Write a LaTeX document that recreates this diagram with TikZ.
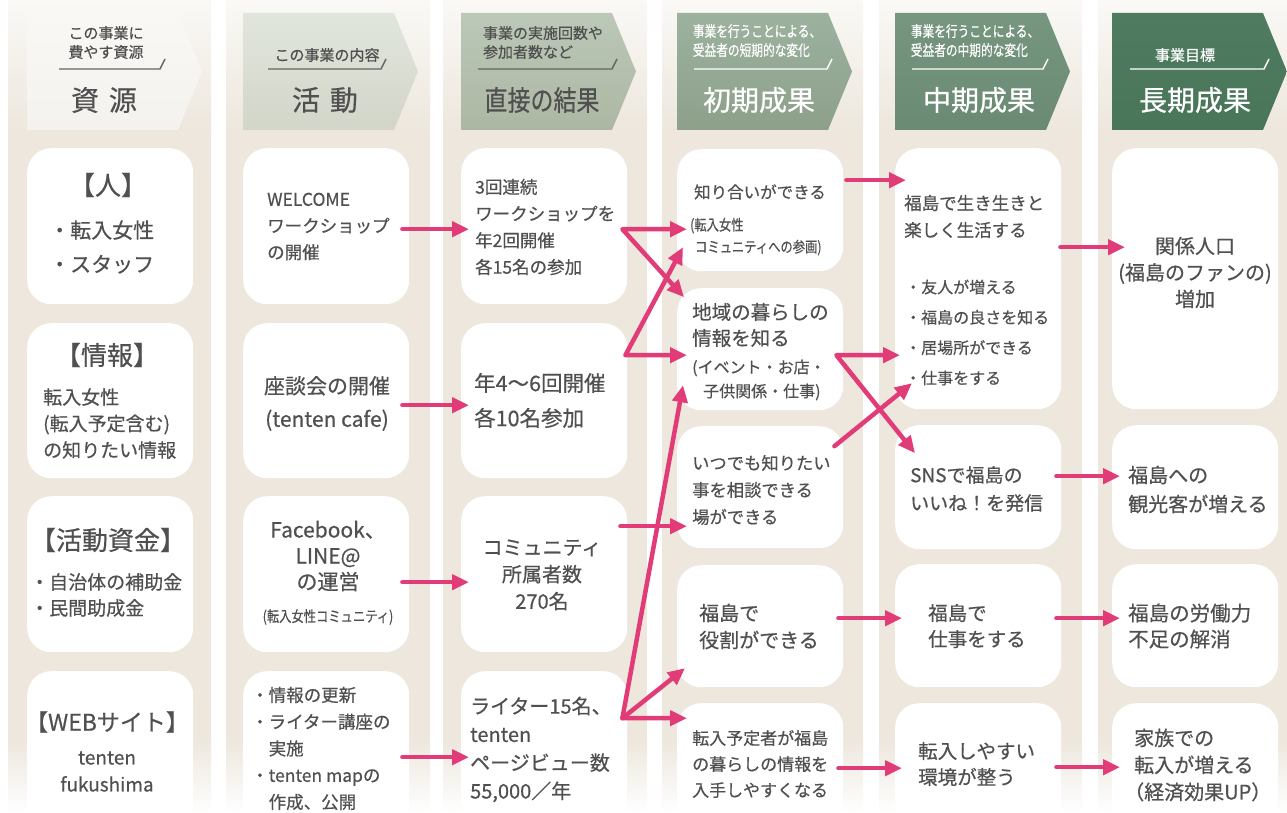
\documentclass[tikz,border=0pt]{standalone}
\usepackage{fontspec}
\setmainfont{Noto Sans CJK JP}[UprightFeatures={FakeBold=0.5}]
\usepackage{graphicx}
\usepackage{tikz}
\usetikzlibrary{arrows.meta}

\definecolor{band}{RGB}{237,231,221}
\definecolor{bandtop}{RGB}{250,249,246}
\definecolor{txtgray}{RGB}{80,80,80}
\definecolor{ulgray}{RGB}{100,100,100}
\definecolor{arrowpink}{RGB}{225,60,120}
\definecolor{haTop}{RGB}{249,248,245}\definecolor{haBot}{RGB}{244,242,238}
\definecolor{hbTop}{RGB}{225,230,221}\definecolor{hbBot}{RGB}{210,213,200}
\definecolor{hcTop}{RGB}{188,200,184}\definecolor{hcBot}{RGB}{172,183,163}
\definecolor{hdTop}{RGB}{156,178,159}\definecolor{hdBot}{RGB}{141,160,138}
\definecolor{heTop}{RGB}{118,150,128}\definecolor{heBot}{RGB}{106,138,115}
\definecolor{hfTop}{RGB}{79,124,97}\definecolor{hfBot}{RGB}{73,117,88}

\newcommand{\fsz}[2]{\fontsize{#1}{#2}\selectfont}

\begin{document}
\begin{tikzpicture}[x=1pt,y=-1pt,
    box/.style={fill=white,rounded corners=24pt,minimum width=166pt,anchor=north west,inner sep=0pt},
    txt/.style={text=txtgray,inner sep=0pt,align=left,anchor=west},
    ctxt/.style={text=txtgray,inner sep=0pt,align=center},
    arr/.style={draw=arrowpink,line width=4.5pt,line cap=round,line join=round,-{Triangle[length=17pt,width=15pt]}},
    arr2/.style={arr,{Triangle[length=17pt,width=15pt]}-{Triangle[length=17pt,width=15pt]}},
    uline/.style={line width=1.4pt}]
    \useasboundingbox (0,0) rectangle (1287,813);
    \clip (0,0) rectangle (1287,813);

    % column bands
    \foreach \xa/\xb in {8/211,226/430,443/647,662/863,879/1082,1098/1300}{
        \fill[band] (\xa,130) rectangle (\xb,740);
        \shade[top color=bandtop,bottom color=band] (\xa,0) rectangle (\xb,130.5);
        \shade[top color=band,bottom color=white] (\xa,739.5) rectangle (\xb,813);
    }

    % headers
    \shade[top color=haTop,bottom color=haBot] (27,13) -- ++(151,0) -- ++(24,58.5) -- ++(-24,58.5) -- ++(-151,0) -- cycle;
    \node[ctxt,font=\fsz{15}{19}] (sub1) at (106,42.5) {この事業に\\費やす資源};
    \draw[uline,draw=ulgray] (59,69) -- (160,69) -- ++(5,-10);
    \node[ctxt,font=\fsz{28}{28}] (hd1) at (104,100) {資\hspace{0.35em}源};

    \shade[top color=hbTop,bottom color=hbBot] (243,13) -- ++(151,0) -- ++(24,58.5) -- ++(-24,58.5) -- ++(-151,0) -- cycle;
    \node[ctxt,font=\fsz{15}{19}] (sub2) at (327,55) {この事業の内容};
    \draw[uline,draw=ulgray] (268,69) -- (381,69) -- ++(5,-10);
    \node[ctxt,font=\fsz{28}{28}] (hd2) at (325,100) {活\hspace{0.35em}動};

    \shade[top color=hcTop,bottom color=hcBot] (461,13) -- ++(151,0) -- ++(24,58.5) -- ++(-24,58.5) -- ++(-151,0) -- cycle;
    \node[ctxt,align=left,font=\fsz{15}{19}] (sub3) at (543,42.5) {事業の実施回数や\\参加者数など};
    \draw[uline,draw=ulgray] (478,69) -- (612,69) -- ++(5,-10);
    \node[ctxt,font=\fsz{28}{28}] (hd3) at (542,100) {\scalebox{0.82}[1]{直接の結果}};

    \shade[top color=hdTop,bottom color=hdBot] (677,13) -- ++(151,0) -- ++(24,58.5) -- ++(-24,58.5) -- ++(-151,0) -- cycle;
    \node[ctxt,text=white,font=\fsz{15}{19}] (sub4) at (757,42.5) {\scalebox{0.78}[1]{\begin{tabular}{@{}l@{}}事業を行うことによる、\\受益者の短期的な変化\end{tabular}}};
    \draw[uline,draw=white] (694,69) -- (827,69) -- ++(5,-10);
    \node[ctxt,text=white,font=\fsz{28}{28}] (hd4) at (759,100) {初期成果};

    \shade[top color=heTop,bottom color=heBot] (895,13) -- ++(151,0) -- ++(24,58.5) -- ++(-24,58.5) -- ++(-151,0) -- cycle;
    \node[ctxt,text=white,font=\fsz{15}{19}] (sub5) at (975,42.5) {\scalebox{0.78}[1]{\begin{tabular}{@{}l@{}}事業を行うことによる、\\受益者の中期的な変化\end{tabular}}};
    \draw[uline,draw=white] (912,69) -- (1043,69) -- ++(5,-10);
    \node[ctxt,text=white,font=\fsz{28}{28}] (hd5) at (979,100) {中期成果};

    \shade[top color=hfTop,bottom color=hfBot] (1112,13) -- ++(151,0) -- ++(24,58.5) -- ++(-24,58.5) -- ++(-151,0) -- cycle;
    \node[ctxt,text=white,font=\fsz{15}{19}] (sub6) at (1185,55) {事業目標};
    \draw[uline,draw=white] (1130,69) -- (1264,69) -- ++(5,-10);
    \node[ctxt,text=white,font=\fsz{28}{28}] (hd6) at (1195,100) {長期成果};

    % resources
    \node[box,minimum height=156pt] (res1) at (27,148) {};
    \node[ctxt,font=\fsz{26}{26}] (res1h) at (108,185) {【人】};
    \node[txt,font=\fsz{21}{34}] (res1t) at (49,247) {・転入女性\\・スタッフ};
    \node[box,minimum height=155pt] (res2) at (27,323) {};
    \node[ctxt,font=\fsz{26}{26}] (res2h) at (107,355) {【情報】};
    \node[txt,font=\fsz{19}{26.5}] (res2t) at (43,423.5) {転入女性\\(転入予定含む)\\の知りたい情報};
    \node[box,minimum height=156pt] (res3) at (27,496) {};
    \node[ctxt,font=\fsz{26}{26}] (res3h) at (108,540) {【活動資金】};
    \node[txt,font=\fsz{19}{26}] (res3t) at (30,595) {・自治体の補助金\\・民間助成金};
    \node[box,minimum height=156pt] (res4) at (27,671) {};
    \node[ctxt,font=\fsz{23}{23}] (res4h) at (107,722) {【WEBサイト】};
    \node[ctxt,font=\fsz{19}{27}] (res4t) at (107,771.5) {tenten\\fukushima};

    % activities
    \node[box,minimum height=156pt] (act1) at (243,148) {};
    \node[txt,font=\fsz{17.5}{26.5}] (act1t) at (267,226.5) {WELCOME\\ワークショップ\\の開催};
    \node[box,minimum height=155pt] (act2) at (243,323) {};
    \node[ctxt,font=\fsz{21}{33}] (act2t) at (327,403.5) {座談会の開催\\(tenten cafe)};
    \node[box,minimum height=156pt] (act3) at (243,496) {};
    \node[ctxt,font=\fsz{21}{26}] (act3t) at (328,556) {Facebook、\\LINE@\\の運営};
    \node[ctxt,font=\fsz{15}{15}] (act3s) at (328,617) {\scalebox{0.82}[1]{(転入女性コミュニティ)}};
    \node[box,minimum height=156pt] (act4) at (243,671) {};
    \node[txt,font=\fsz{17.5}{26.75}] (act4t) at (251,748.5) {・情報の更新\\・ライター講座の\\　実施\\・tenten mapの\\　作成、公開};

    % outputs
    \node[box,minimum height=156pt] (out1) at (461,148) {};
    \node[txt,font=\fsz{17.5}{26.7}] (out1t) at (475,227) {3回連続\\ワークショップを\\年2回開催\\各15名の参加};
    \node[box,minimum height=155pt] (out2) at (461,323) {};
    \node[txt,font=\fsz{21.5}{35}] (out2t) at (474,400.5) {年4～6回開催\\各10名参加};
    \node[box,minimum height=156pt] (out3) at (461,496) {};
    \node[ctxt,font=\fsz{20}{27}] (out3t) at (542,575) {コミュニティ\\所属者数\\270名};
    \node[box,minimum height=156pt] (out4) at (461,671) {};
    \node[txt,font=\fsz{20}{28.3}] (out4t) at (470,749.5) {ライター15名、\\tenten\\ページビュー数\\55,000／年};

    % initial outcomes
    \node[box,minimum height=122pt] (ini1) at (677,149) {};
    \node[ctxt,font=\fsz{16.5}{16.5}] (ini1t) at (760,192) {知り合いができる};
    \node[txt,font=\fsz{15}{22}] (ini1s) at (690,237) {\scalebox{0.82}[1]{\begin{tabular}{@{}l@{}}(転入女性\\\hspace{6pt}コミュニティへの参画)\end{tabular}}};
    \node[box,minimum height=122pt] (ini2) at (677,288) {};
    \node[txt,font=\fsz{19.5}{26}] (ini2t) at (692,325) {地域の暮らしの\\情報を知る};
    \node[txt,font=\fsz{16}{24}] (ini2s) at (692,380) {(イベント・お店・\\\hspace*{11pt}子供関係・仕事)};
    \node[box,minimum height=122pt] (ini3) at (677,426) {};
    \node[txt,font=\fsz{17.3}{27}] (ini3t) at (692,490) {いつでも知りたい\\事を相談できる\\場ができる};
    \node[box,minimum height=122pt] (ini4) at (677,565) {};
    \node[txt,font=\fsz{20}{27}] (ini4t) at (699,626.5) {福島で\\役割ができる};
    \node[box,minimum height=122pt] (ini5) at (677,703) {};
    \node[txt,font=\fsz{17}{26}] (ini5t) at (692,764) {転入予定者が福島\\の暮らしの情報を\\入手しやすくなる};

    % mid-term outcomes
    \node[box,minimum height=261pt] (mid1) at (895,148) {};
    \node[txt,font=\fsz{17.5}{27}] (mid1t) at (904,216.5) {福島で生き生きと\\楽しく生活する};
    \node[txt,font=\fsz{16}{30.3}] (mid1s) at (905,332.5) {・友人が増える\\・福島の良さを知る\\・居場所ができる\\・仕事をする};
    \node[box,minimum height=124pt] (mid2) at (895,425) {};
    \node[txt,font=\fsz{19}{28}] (mid2t) at (910,489) {SNSで福島の\\いいね！を発信};
    \node[box,minimum height=123pt] (mid3) at (895,564) {};
    \node[txt,font=\fsz{19.5}{26}] (mid3t) at (928,626) {福島で\\仕事をする};
    \node[box,minimum height=123pt] (mid4) at (895,703) {};
    \node[txt,font=\fsz{19.5}{26}] (mid4t) at (918,764) {転入しやすい\\環境が整う};

    % long-term outcomes
    \node[box,minimum height=261pt] (lng1) at (1112,148) {};
    \node[ctxt,font=\fsz{20}{26.5}] (lng1t) at (1195,272.5) {関係人口\\(福島のファンの)\\増加};
    \node[box,minimum height=124pt] (lng2) at (1112,425) {};
    \node[txt,font=\fsz{20}{29}] (lng2t) at (1128,489.5) {福島への\\観光客が増える};
    \node[box,minimum height=123pt] (lng3) at (1112,564) {};
    \node[txt,font=\fsz{20.5}{26}] (lng3t) at (1128,626) {福島の労働力\\不足の解消};
    \node[box,minimum height=123pt] (lng4) at (1112,703) {};
    \node[txt,font=\fsz{20}{27}] (lng4t) at (1134,765) {家族での\\転入が増える\\\hspace*{-10pt}（経済効果UP）};

    % activity -> output
    \draw[arr] ([xshift=-7pt,yshift=-3pt]act1.east) -- ([xshift=8pt,yshift=-3pt]out1.west);
    \draw[arr] ([xshift=-7pt,yshift=-4.5pt]act2.east) -- ([xshift=8pt,yshift=-4.5pt]out2.west);
    \draw[arr] ([xshift=-7pt,yshift=-8pt]act3.east) -- ([xshift=8pt,yshift=-8pt]out3.west);
    \draw[arr] ([xshift=-7pt,yshift=-8pt]act4.east) -- ([xshift=8pt,yshift=-8pt]out4.west);

    % output -> initial
    \coordinate (j1) at ([xshift=-5pt,yshift=-3pt]out1.east);
    \coordinate (j2) at ([xshift=-2pt,yshift=45.5pt]out2.east);
    \coordinate (j4) at ([xshift=-5pt,yshift=31pt]out4.east);
    \draw[arr2] ([xshift=10pt,yshift=-19pt]ini1.west) -- (j1) -- ([xshift=7pt,yshift=52pt]ini2.west);
    \draw[arr2] ([xshift=6pt,yshift=-37pt]ini1.west) -- (j2) -- ([xshift=10pt,yshift=-6pt]ini2.west);
    \draw[arr] ([xshift=-7pt,yshift=48pt]out3.east) -- ([xshift=10pt,yshift=-39pt]ini3.west);
    \draw[arr2] ([xshift=6pt,yshift=-36pt]ini2.west) -- (j4) -- ([xshift=10pt,yshift=46pt]ini5.west);
    \draw[arr] (j4) -- ([xshift=8pt,yshift=-42pt]ini4.west);

    % initial -> mid
    \coordinate (j5) at ([xshift=-7pt,yshift=-6pt]ini2.east);
    \draw[arr] ([xshift=3pt,yshift=30pt]ini1.east) -- ([xshift=11pt,yshift=98.5pt]mid1.west);
    \draw[arr2] ([xshift=5pt,yshift=-76.5pt]mid1.west) -- (j5) -- ([xshift=20pt,yshift=34pt]mid2.west);
    \draw[arr] ([xshift=-9pt,yshift=41pt]ini3.east) -- ([xshift=17pt,yshift=-104.5pt]mid1.west);
    \draw[arr] ([xshift=-5pt,yshift=8pt]ini4.east) -- ([xshift=7pt,yshift=7.5pt]mid3.west);
    \draw[arr] ([xshift=-5pt,yshift=-4pt]ini5.east) -- ([xshift=7pt,yshift=-3.5pt]mid4.west);

    % mid -> long
    \draw[arr] ([xshift=-1pt,yshift=31.5pt]mid1.east) -- ([xshift=13pt,yshift=31.5pt]lng1.west);
    \draw[arr] ([xshift=-5pt,yshift=11pt]mid2.east) -- ([xshift=8pt,yshift=11pt]lng2.west);
    \draw[arr] ([xshift=-5pt,yshift=7.5pt]mid3.east) -- ([xshift=8pt,yshift=7.5pt]lng3.west);
    \draw[arr] ([xshift=-5pt,yshift=-2.5pt]mid4.east) -- ([xshift=8pt,yshift=-2.5pt]lng4.west);
\end{tikzpicture}
\end{document}
